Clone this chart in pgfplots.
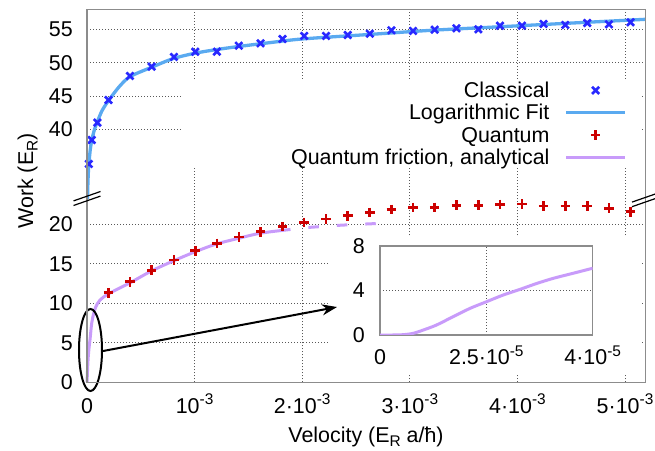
\documentclass[border=0pt]{standalone}
\usepackage{pgfplots}
\pgfplotsset{compat=1.18}
\usepackage{fontspec}
\setmainfont{Liberation Sans}
\usetikzlibrary{arrows.meta}
\definecolor{cls}{RGB}{40,40,255}
\definecolor{fitc}{RGB}{90,170,240}
\definecolor{qc}{RGB}{204,0,0}
\definecolor{anc}{RGB}{200,155,250}
\newcommand\F{\fontsize{21.5}{25}\selectfont}
\newcommand\sps[1]{\raisebox{0.42em}{\fontsize{15.5}{16}\selectfont #1}}
\newcommand\sbs[1]{\raisebox{-0.22em}{\fontsize{15.5}{16}\selectfont #1}}

\pgfplotstableread{
x y
0.017 34.8
0.044 38.4
0.097 41.0
0.200 44.4
0.399 48.0
0.601 49.4
0.808 50.85
1.006 51.64
1.207 51.64
1.411 52.54
1.613 52.9
1.817 53.55
2.018 54.0
2.222 54.0
2.423 54.15
2.628 54.34
2.829 54.85
3.030 54.75
3.231 54.94
3.433 55.15
3.637 55.0
3.838 55.54
4.042 55.54
4.243 55.8
4.445 55.65
4.649 55.95
4.850 55.75
5.051 56.05
}\classical

\pgfplotstableread{
x y
0.0040 29.0
0.0060 30.6
0.0090 32.2
0.0130 33.7
0.0180 34.9
0.0300 36.9
0.0450 38.4
0.0700 40.0
0.0980 41.2
0.1400 42.8
0.2000 44.3
0.3000 46.4
0.4000 47.9
0.6000 49.3
0.8000 50.6
1.0000 51.4
1.2000 51.95
1.4000 52.4
1.7000 53.0
2.0000 53.55
2.6000 54.2
3.2000 54.85
3.8000 55.35
4.4000 55.85
5.1920 56.5
}\logfit

\pgfplotstableread{
x y
0.201 11.34
0.399 12.73
0.601 14.18
0.808 15.48
1.006 16.66
1.207 17.59
1.411 18.39
1.613 19.06
1.817 19.70
2.018 20.25
2.222 20.67
2.423 21.09
2.628 21.52
2.829 21.90
3.030 22.15
3.231 22.15
3.433 22.41
3.637 22.41
3.838 22.53
4.042 22.57
4.243 22.32
4.445 22.32
4.649 22.32
4.850 22.03
5.051 21.59
}\quantum

\pgfplotstableread{
x y
0.000 0.0
0.004 1.2
0.008 2.4
0.012 3.3
0.020 4.5
0.028 5.4
0.036 6.5
0.044 7.5
0.060 8.6
0.080 9.5
0.120 10.4
0.200 11.2
0.400 12.6
0.600 14.1
0.800 15.35
1.000 16.5
1.200 17.5
1.400 18.2
1.600 18.85
1.794 19.2
}\analytic

\pgfplotstableread{
x y
1.794 19.2
2.050 19.6
2.370 19.9
2.690 20.1
}\analyticb

\pgfplotstableread{
x y
0.00 0.0
0.30 0.0
0.55 0.03
0.78 0.15
1.02 0.45
1.33 0.9
1.72 1.65
2.12 2.4
2.49 2.97
2.90 3.6
3.29 4.1
3.69 4.64
4.08 5.1
4.47 5.48
5.00 6.0
}\inset

\begin{document}
\begin{tikzpicture}
\useasboundingbox (0,0) rectangle (655bp,451bp);
\pgfplotsset{
  brk/.style={scale only axis, width=558.7bp, xmin=0, xmax=5.192,
    axis line style={draw=none}, major tick length=0pt,
    grid=major, grid style={black!65, line width=0.9bp, dash pattern=on 0.9bp off 2.1bp},
    ticklabel style={font=\F},
    /pgf/number format/assume math mode=true,
    xtick={0,1,2,3,4,5},
    yticklabel style={anchor=east, inner sep=0pt, xshift=-14bp},
    xticklabel style={anchor=base, inner sep=0pt, yshift=-31bp},
  },
}
% bottom panel
\begin{axis}[brk, at={(87bp,68.7bp)}, height=183.8bp, ymin=0, ymax=23.27,
  ytick={0,5,10,15,20}, clip=false,
  xticklabels={0, 10\sps{-3}, 2·10\sps{-3}, 3·10\sps{-3}, 4·10\sps{-3}, 5·10\sps{-3}}]
\addplot[anc, line width=3bp, smooth, no marks] table {\analytic};
\addplot[anc, line width=3bp, no marks, dash pattern=on 10.5bp off 18bp] table {\analyticb};
\addplot[qc, only marks, mark=+, mark size=4.8bp, line width=2.6bp] table {\quantum};
\draw[line width=2bp] (axis cs:0.0325,4.09) ellipse [x radius=11.5bp, y radius=41bp];
\coordinate (arrA) at (axis cs:0.1487,3.96);
\coordinate (arrB) at (axis cs:2.323,9.53);
\end{axis}
% top panel
\begin{axis}[brk, at={(87bp,252.5bp)}, height=189.2bp, ymin=29.62, ymax=58.0,
  ytick={40,45,50,55}, xticklabels={},
  legend image code/.code={\draw[mark repeat=2,mark phase=2,#1] plot coordinates {(0bp,0bp)(29.5bp,0bp)(59bp,0bp)};},
  legend cell align=right, legend plot pos=right,
  legend style={at={(0.9665,0.6314)}, anchor=north east, draw=none, fill=none, font=\F,
    inner sep=0pt, row sep=0pt,
    nodes={inner xsep=0pt, inner ysep=1.35bp, text height=17bp, text depth=2.6bp},
    /tikz/every odd column/.append style={column sep=15bp}}]
\fill[white] (rel axis cs:0.170,0.159) rectangle (rel axis cs:0.989,0.624);
\addplot[fitc, line width=3.3bp, smooth, no marks, forget plot] table {\logfit};
\addplot[cls, only marks, mark=x, mark size=5bp, line width=2.6bp] table {\classical};
\addlegendentry{Classical}
\addlegendimage{fitc, line width=3.3bp}
\addlegendentry{Logarithmic Fit}
\addlegendimage{qc, only marks, mark=+, mark size=4.8bp, line width=2.6bp}
\addlegendentry{Quantum}
\addlegendimage{anc, line width=3bp}
\addlegendentry{Quantum friction, analytical}
\end{axis}
% inset
\fill[white] (330bp,76bp) rectangle (640bp,215bp);
\begin{axis}[scale only axis, at={(380bp,116bp)}, width=212.7bp, height=89bp,
  xmin=0, xmax=5, ymin=0, ymax=8,
  xtick={0,2.5,5}, xticklabels={0, 2.5·10\sps{-5}, 4·10\sps{-5}},
  ytick={0,4,8}, major tick length=0pt,
  axis line style={black!45, line width=1.2bp},
  grid=major, grid style={black!65, line width=0.9bp, dash pattern=on 0.9bp off 2.1bp},
  ticklabel style={font=\F},
  /pgf/number format/assume math mode=true,
  yticklabel style={anchor=east, inner sep=0pt, xshift=-15bp},
  xticklabel style={anchor=base, inner sep=0pt, yshift=-30bp}]
\addplot[anc, line width=3bp, smooth, no marks] table {\inset};
\end{axis}
\draw[line width=2bp, -{Stealth[length=15bp, width=11bp]}] (arrA) -- (arrB);
% frame
\draw[black!45, line width=1.5bp] (87bp,68.7bp) rectangle (645.7bp,441.7bp);
% break marks
\foreach \d in {-2.3,2.3}{
  \draw[line width=1.2bp] (73.5bp,{(252.5+\d-4.7)*1bp}) -- (100.5bp,{(252.5+\d+4.7)*1bp});
  \draw[line width=1.2bp] (632bp,{(251.3+\d-4.7)*1bp}) -- (659bp,{(251.3+\d+4.7)*1bp});
}
% axis labels
\node[font=\F, rotate=90, anchor=base] at (33bp,270bp) {Work (E\sbs{R})};
\node[font=\F, anchor=base] at (366bp,9bp) {Velocity (E\sbs{R} a/ħ)};
\end{tikzpicture}
\end{document}
